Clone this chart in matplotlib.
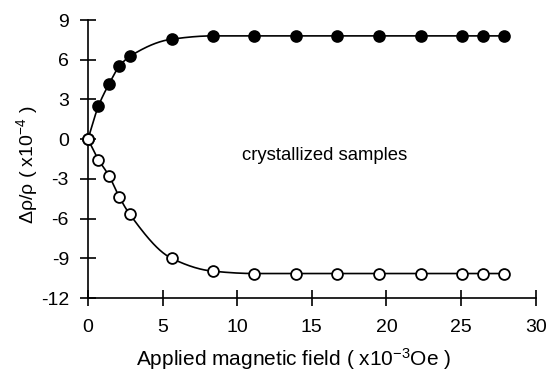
import numpy as np
import matplotlib
matplotlib.use("Agg")
import matplotlib.pyplot as plt

field = [0, 0.7, 1.4, 2.1, 2.8, 5.6, 8.35, 11.15, 13.95, 16.7, 19.5, 22.3, 25.05, 26.45, 27.85]
filled = [0, 2.5, 4.15, 5.5, 6.25, 7.55, 7.8, 7.8, 7.8, 7.8, 7.8, 7.8, 7.8, 7.8, 7.8]
opened = [0, -1.55, -2.75, -4.37, -5.68, -9.0, -9.97, -10.15, -10.15, -10.15, -10.15, -10.15, -10.15, -10.15, -10.15]
xticks = [0, 5, 10, 15, 20, 25, 30]
yticks = [-12, -9, -6, -3, 0, 3, 6, 9]
note = "crystallized samples"

plt.rcParams['font.family'] = ['Liberation Sans', 'DejaVu Sans']
plt.rcParams['axes.unicode_minus'] = False
plt.rcParams['mathtext.fontset'] = 'custom'
plt.rcParams['mathtext.rm'] = 'Liberation Sans'
plt.rcParams['mathtext.it'] = 'Liberation Sans'
plt.rcParams['mathtext.default'] = 'rm'


def pchip(x, y, n=40):
    x = np.asarray(x, float); y = np.asarray(y, float)
    h = np.diff(x); d = np.diff(y) / h
    m = np.zeros_like(y)
    for k in range(1, len(x) - 1):
        if d[k - 1] * d[k] > 0:
            w1 = 2 * h[k] + h[k - 1]; w2 = h[k] + 2 * h[k - 1]
            m[k] = (w1 + w2) / (w1 / d[k - 1] + w2 / d[k])
    m[0] = d[0]; m[-1] = d[-1]
    xs, ys = [], []
    for k in range(len(x) - 1):
        t = np.linspace(0, 1, n)
        h00 = 2 * t**3 - 3 * t**2 + 1; h10 = t**3 - 2 * t**2 + t
        h01 = -2 * t**3 + 3 * t**2; h11 = t**3 - t**2
        xs.append(x[k] + t * h[k])
        ys.append(h00 * y[k] + h10 * h[k] * m[k] + h01 * y[k + 1] + h11 * h[k] * m[k + 1])
    return np.concatenate(xs), np.concatenate(ys)


fig = plt.figure(figsize=(5.51, 3.81), dpi=100)
ax = fig.add_axes([0.1597, 0.2178, 0.8125, 0.7297])

for ys, fc in [(filled, 'black'), (opened, 'white')]:
    sx, sy = pchip(field, ys)
    ax.plot(sx, sy, color='black', lw=1.2, zorder=2)
    ax.plot(field, ys, 'o', ms=7.8, mfc=fc, mec='black', mew=1.3, zorder=3, clip_on=False)

ax.set_xlim(0, 30)
ax.set_ylim(-12, 9)
ax.set_xticks(xticks)
ax.set_yticks(yticks)
ax.spines['top'].set_visible(False)
ax.spines['right'].set_visible(False)
for s in ['left', 'bottom']:
    ax.spines[s].set_linewidth(1.2)
ax.tick_params(direction='inout', length=11.5, width=1.2, labelsize=14)
ax.tick_params(axis='y', pad=8)
ax.tick_params(axis='x', pad=9)

ax.text(10.35, -1.2, note, fontsize=13.3, va='center', ha='left')
ax.set_xlabel("Applied magnetic field ( x10$^{-3}$Oe )", fontsize=15)
ax.xaxis.set_label_coords(0.46, -0.173)
ax.set_ylabel("\u0394\u03c1/\u03c1 ( x10$^{-4}$ )", fontsize=14)
ax.yaxis.set_label_coords(-0.107, 0.478)

fig.savefig("out.png", dpi=100)
